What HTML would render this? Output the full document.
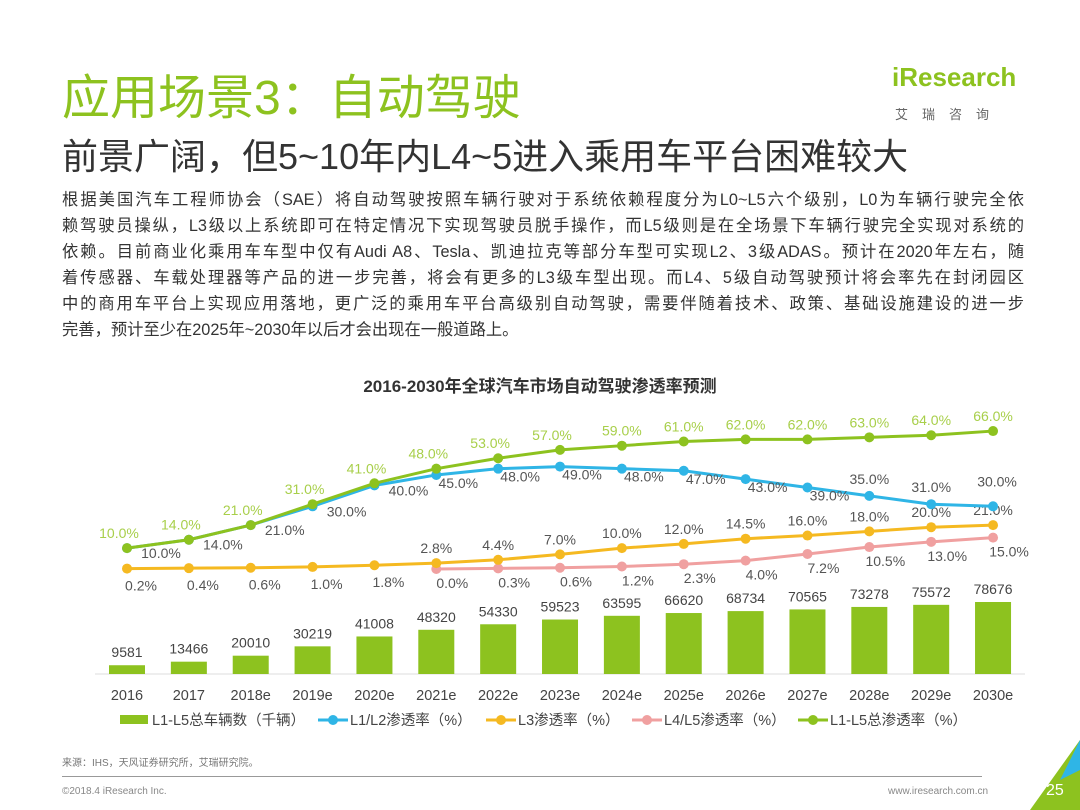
<!DOCTYPE html>
<html><head><meta charset="utf-8"><style>
body{margin:0;width:1080px;height:810px;background:#fff;font-family:"Liberation Sans","Noto Sans CJK SC",sans-serif;position:relative;overflow:hidden}
.a{position:absolute;white-space:nowrap}
.pl{position:absolute;left:62px;width:962px;font-size:16.3px;color:#333;text-align:justify;text-align-last:justify;white-space:nowrap}
</style></head><body>
<div class="a" style="left:62px;top:58px;font-size:48px;color:#8dc21f;">应用场景3：自动驾驶</div>
<div class="a" style="left:62px;top:128px;font-size:36px;color:#333;">前景广阔，但5~10年内L4~5进入乘用车平台困难较大</div>
<div class="a" style="left:892px;top:62px;font-size:26px;color:#8dc21f;font-weight:bold">iResearch</div>
<div class="a" style="left:895px;top:104px;font-size:13px;color:#666;letter-spacing:14px">艾瑞咨询</div>
<div>
<div class="pl" style="top:186px">根据美国汽车工程师协会（SAE）将自动驾驶按照车辆行驶对于系统依赖程度分为L0~L5六个级别，L0为车辆行驶完全依</div>
<div class="pl" style="top:212px">赖驾驶员操纵，L3级以上系统即可在特定情况下实现驾驶员脱手操作，而L5级则是在全场景下车辆行驶完全实现对系统的</div>
<div class="pl" style="top:238px">依赖。目前商业化乘用车车型中仅有Audi A8、Tesla、凯迪拉克等部分车型可实现L2、3级ADAS。预计在2020年左右，随</div>
<div class="pl" style="top:264px">着传感器、车载处理器等产品的进一步完善，将会有更多的L3级车型出现。而L4、5级自动驾驶预计将会率先在封闭园区</div>
<div class="pl" style="top:290px">中的商用车平台上实现应用落地，更广泛的乘用车平台高级别自动驾驶，需要伴随着技术、政策、基础设施建设的进一步</div>
<div class="pl" style="top:316px;text-align-last:left">完善，预计至少在2025年~2030年以后才会出现在一般道路上。</div>
</div>
<svg id="chart" class="a" style="left:0;top:0" width="1080" height="810"></svg>
<div class="a" style="left:62px;top:754px;font-size:10px;color:#777">来源：IHS，天风证券研究所，艾瑞研究院。</div>
<div class="a" style="left:62px;top:776px;width:920px;height:1px;background:#999"></div>
<div class="a" style="left:62px;top:786px;font-size:10px;color:#888">©2018.4 iResearch Inc.</div>
<div class="a" style="left:888px;top:786px;font-size:10px;color:#888">www.iresearch.com.cn</div>
<svg class="a" style="left:1030px;top:740px" width="50" height="70"><polygon points="50,0 50,70 0,70" fill="#8dc21f"/><polygon points="50,0 50,30 30,40" fill="#2fb5e6"/></svg>
<div class="a" style="left:1046px;top:782px;font-size:16px;color:#fff">25</div>
<script>
const cats=["2016","2017","2018e","2019e","2020e","2021e","2022e","2023e","2024e","2025e","2026e","2027e","2028e","2029e","2030e"];
const vehicles=[9581,13466,20010,30219,41008,48320,54330,59523,63595,66620,68734,70565,73278,75572,78676];
const l12=[10,14,21,30,40,45,48,49,48,47,43,39,35,31,30];
const l3=[0.2,0.4,0.6,1.0,1.8,2.8,4.4,7.0,10.0,12.0,14.5,16.0,18.0,20.0,21.0];
const l45=[null,null,null,null,null,0.0,0.3,0.6,1.2,2.3,4.0,7.2,10.5,13.0,15.0];
const total=[10,14,21,31,41,48,53,57,59,61,62,62,63,64,66];
const svg=document.getElementById('chart');const NS='http://www.w3.org/2000/svg';
const X=i=>127+i*61.86, Yp=v=>569-v*2.09, Yb=v=>674-v*72/78676;
function mk(t,a){const e=document.createElementNS(NS,t);for(const k in a)e.setAttribute(k,a[k]);svg.appendChild(e);return e;}
function txt(x,y,s,fill,size,anchor){const e=mk('text',{x:x,y:y,fill:fill,'font-size':size,'text-anchor':anchor||'middle','font-family':'"Liberation Sans","Noto Sans CJK SC",sans-serif'});e.textContent=s;return e;}
let t=txt(540,392,'2016-2030年全球汽车市场自动驾驶渗透率预测','#333',17);t.setAttribute('font-weight','bold');


let ax=mk('line',{x1:95,y1:674,x2:1025,y2:674,stroke:'#ddd'});


vehicles.forEach((v,i)=>{const r=mk('rect',{x:X(i)-18,y:Yb(v),width:36,height:674-Yb(v),fill:'#8dc21f'});


const l=txt(X(i),Yb(v)-8,String(v),'#444',14);


const c=txt(X(i),700,cats[i],'#444',14.5);

});
function series(vals,color,name,lab){const pts=[];vals.forEach((v,i)=>{if(v!==null)pts.push([X(i),Yp(v),v,i]);});
const p=mk('polyline',{points:pts.map(q=>q[0]+','+q[1]).join(' '),fill:'none',stroke:color,'stroke-width':3});


pts.forEach(q=>{const c=mk('circle',{cx:q[0],cy:q[1],r:5,fill:color});


const o=lab(q[3]);const l=txt(q[0]+o[0],q[1]+o[1],q[2].toFixed(1)+'%',o[2],14);

});}
series(l45,'#f0a0a0','l4l5',i=>[16,19,'#555']);
series(l3,'#f5b921','l3',i=>i<5?[14,22,'#555']:[0,-10,'#555']);
series(l12,'#2fb5e6','l1l2',i=>i<5?[34,10,'#555']:(i<12?[22,13,'#555']:(i===14?[4,-20,'#555']:[0,-12,'#555'])));
series(total,'#8dc21f','total',i=>[i<8?-8:0,-10,'#a8cf4a']);
const leg=[['bar','#8dc21f','L1-L5总车辆数（千辆）',120],['line','#2fb5e6','L1/L2渗透率（%）',318],['line','#f5b921','L3渗透率（%）',486],['line','#f0a0a0','L4/L5渗透率（%）',632],['line','#8dc21f','L1-L5总渗透率（%）',798]];
leg.forEach(g=>{let m;if(g[0]==='bar')m=mk('rect',{x:g[3],y:715,width:28,height:9,fill:g[1]});else{mk('line',{x1:g[3],y1:720,x2:g[3]+30,y2:720,stroke:g[1],'stroke-width':3});m=mk('circle',{cx:g[3]+15,cy:720,r:5,fill:g[1]});}


const l=txt(g[3]+32,725,g[2],'#444',14.5,'start');

});
</script>
</body></html>
